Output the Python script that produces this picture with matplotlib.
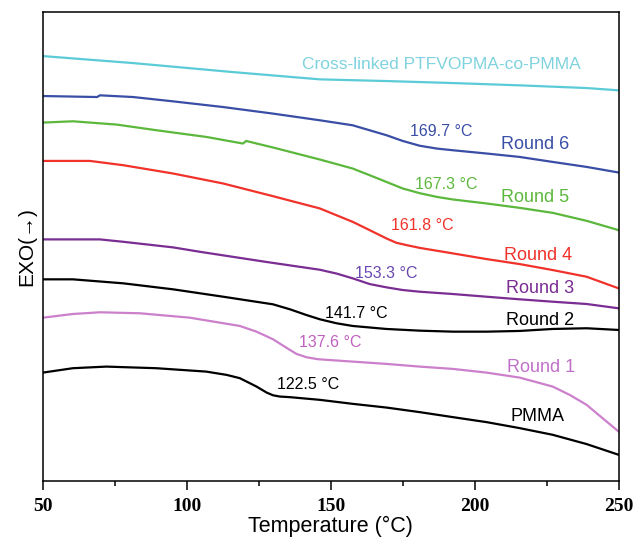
import numpy as np
from matplotlib import pyplot as plt
from matplotlib.ticker import MultipleLocator

# DSC curves, temperature (°C) vs heat flow (a.u., exo up)
t_crosslinked = [50, 81.3, 115.9, 146.2, 169.4, 192.4, 215.6, 238.9, 250]
y_crosslinked = [425.3, 418.3, 409.3, 402.0, 400.3, 398.3, 396.0, 393.3, 391.0]

t_round6 = [50, 68.8, 69.8, 81.3, 95.1, 112.5, 129.9, 146.2, 157.6, 169.4,
            175.0, 180.9, 186.8, 192.4, 204.2, 215.6, 227.1, 238.9, 250]
y_round6 = [385.3, 384.3, 386.0, 384.3, 380.0, 374.3, 367.7, 361.0, 356.0, 346.0,
            340.3, 335.5, 332.7, 331.0, 327.7, 324.3, 319.3, 314.3, 308.7]

t_round5 = [50, 60.4, 75.6, 89.5, 106.8, 119.5, 120.6, 130.0, 146.2, 157.6,
            163.5, 169.3, 175.0, 180.9, 186.8, 192.4, 204.1, 215.6, 227.1, 238.9, 250]
y_round5 = [358.7, 360.0, 356.7, 351.0, 344.3, 337.7, 340.3, 333.7, 321.7, 312.7,
            306.0, 299.3, 292.7, 288.0, 284.3, 281.7, 277.7, 273.3, 268.3, 260.3, 251.0]

t_round4 = [50, 66.3, 77.9, 95.2, 112.6, 129.9, 146.2, 157.6, 163.5, 169.3,
            172.8, 176.3, 180.9, 192.4, 204.1, 215.6, 227.1, 238.9, 250]
y_round4 = [320.3, 320.3, 316.0, 307.7, 297.7, 285.0, 272.7, 259.3, 251.0, 242.7,
            238.3, 236.0, 233.2, 227.7, 222.0, 217.0, 211.0, 204.3, 192.7]

t_round3 = [50, 69.8, 77.9, 95.2, 104.5, 127.2, 146.2, 152.0, 157.6, 163.5,
            169.3, 175.0, 180.9, 192.4, 204.1, 215.6, 227.1, 238.9, 250]
y_round3 = [241.7, 241.7, 239.3, 233.7, 229.3, 219.3, 211.3, 207.5, 202.7, 197.0,
            193.7, 191.0, 189.3, 187.0, 184.3, 181.7, 179.3, 177.0, 172.7]

t_round2 = [50, 60.4, 77.9, 95.2, 112.6, 129.9, 135.8, 141.5, 146.2, 152.0,
            157.6, 169.3, 180.9, 192.4, 204.1, 215.6, 227.1, 238.9, 250]
y_round2 = [201.7, 201.7, 197.7, 191.7, 184.3, 176.7, 171.7, 166.0, 161.7, 157.7,
            155.0, 152.0, 150.3, 149.3, 149.3, 150.0, 152.0, 152.7, 151.0]

t_round1 = [50, 60.4, 69.8, 83.7, 101.0, 118.4, 124.2, 129.9, 135.8, 138.1,
            141.5, 145.5, 157.6, 169.3, 180.9, 192.4, 204.1, 215.6, 227.1, 233.0,
            238.9, 244.4, 250]
y_round1 = [163.3, 167.0, 168.7, 167.7, 163.3, 155.0, 149.3, 141.7, 131.0, 127.0,
            123.7, 121.7, 119.3, 117.0, 114.3, 112.0, 108.3, 103.3, 94.3, 86.0,
            76.0, 62.7, 49.3]

t_pmma = [50, 60.4, 72.0, 89.3, 106.7, 113.8, 118.4, 124.2, 127.7, 129.9,
          132.3, 135.8, 146.2, 157.6, 169.3, 180.9, 192.4, 204.1, 215.6, 227.1,
          238.9, 250]
y_pmma = [108.3, 112.7, 114.3, 112.7, 109.3, 106.0, 102.7, 94.3, 88.3, 85.6,
          84.3, 83.7, 81.0, 77.0, 73.3, 68.7, 63.7, 58.7, 52.7, 46.0,
          36.7, 26.0]

# colours
c_cyan = "#5ccbd8"
c_blue = "#3a4ea6"
c_green = "#5cb83c"
c_red = "#f0322a"
c_purple = "#7a2d92"
c_black = "#000000"
c_pink = "#cc80cc"

fig = plt.figure(figsize=(6.36, 5.37), dpi=100)
ax = fig.add_axes([0.0676, 0.1048, 0.905, 0.872])

curves = [
    (t_crosslinked, y_crosslinked, c_cyan),
    (t_round6, y_round6, c_blue),
    (t_round5, y_round5, c_green),
    (t_round4, y_round4, c_red),
    (t_round3, y_round3, c_purple),
    (t_round2, y_round2, c_black),
    (t_round1, y_round1, c_pink),
    (t_pmma, y_pmma, c_black),
]
for t, y, c in curves:
    ax.plot(t, y, color=c, linewidth=1.6, solid_joinstyle="round")

# curve labels and glass transition temperatures
label_font = dict(family="Liberation Sans", ha="center", va="center")
ax.text(188.5, 417, "Cross-linked PTFVOPMA-co-PMMA", color="#7fd3de", fontsize=12.5, **label_font)
ax.text(188.5, 349.3, "169.7 °C", color=c_blue, fontsize=11.5, **label_font)
ax.text(221, 336.7, "Round 6", color=c_blue, fontsize=13, **label_font)
ax.text(190, 296.7, "167.3 °C", color=c_green, fontsize=11.5, **label_font)
ax.text(221, 283.7, "Round 5", color=c_green, fontsize=13, **label_font)
ax.text(181.8, 255.3, "161.8 °C", color=c_red, fontsize=11.5, **label_font)
ax.text(222, 226, "Round 4", color=c_red, fontsize=13, **label_font)
ax.text(169.4, 207.7, "153.3 °C", color="#6a48b0", fontsize=11.5, **label_font)
ax.text(222.7, 192.7, "Round 3", color=c_purple, fontsize=13, **label_font)
ax.text(158.7, 167.7, "141.7 °C", color=c_black, fontsize=11.5, **label_font)
ax.text(222.7, 160.3, "Round 2", color=c_black, fontsize=13, **label_font)
ax.text(149.7, 138.7, "137.6 °C", color="#c060c0", fontsize=11.5, **label_font)
ax.text(223.1, 113.7, "Round 1", color="#c070c8", fontsize=13, **label_font)
ax.text(142, 96, "122.5 °C", color=c_black, fontsize=11.5, **label_font)
ax.text(221.7, 64.3, "PMMA", color=c_black, fontsize=13, **label_font)

# axes settings
ax.set_xlim(50, 250)
ax.set_ylim(0, 469)
ax.xaxis.set_major_locator(MultipleLocator(50))
ax.xaxis.set_minor_locator(MultipleLocator(25))
ax.tick_params(axis="x", which="major", direction="out", length=6.3, width=1.1, pad=6)
ax.tick_params(axis="x", which="minor", direction="out", length=3.8, width=1.1)
ax.set_yticks([])
for label in ax.get_xticklabels():
    label.set_family("Liberation Serif")
    label.set_fontweight("bold")
    label.set_fontsize(14)
for spine in ax.spines.values():
    spine.set_linewidth(1.1)

ax.set_xlabel("Temperature (°C)", family="Liberation Sans", fontsize=15.5, labelpad=1)
ax.set_ylabel("EXO(→)", family="Liberation Sans", fontsize=15, labelpad=5)

fig.savefig("out.png", dpi=100)
